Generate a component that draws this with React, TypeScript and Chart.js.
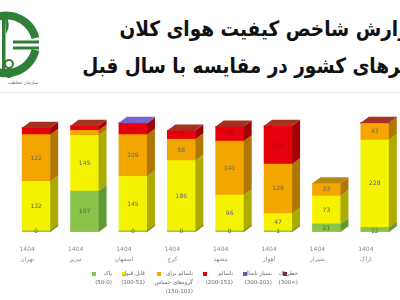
import React, { useEffect, useRef } from "react";
import { Chart, registerables } from "chart.js";

Chart.register(...registerables);

// ---- data ----
const cities = ["تهران", "تبریز", "اصفهان", "کرج", "مشهد", "اهواز", "شیراز", "اراک"];
const yearLabel = "1404";
const clean = [0, 107, 0, 0, 0, 1, 21, 12];
const acceptable = [132, 145, 145, 186, 96, 47, 73, 228];
const sensitive = [122, 13, 109, 56, 141, 129, 33, 43];
const unhealthy = [18, 12, 29, 23, 38, 100, 0, 2];
const veryUnhealthy = [0, 0, 2, 0, 0, 0, 0, 0];
const hazardous = [0, 0, 0, 0, 0, 0, 0, 0];

const seriesNames = ["پاک", "قابل قبول", "ناسالم برای گروه‌های حساس", "ناسالم", "بسیار ناسالم", "خطرناک"];
const legendLines = [
  ["پاک", "(50-0)"],
  ["قابل قبول", "(100-51)"],
  ["ناسالم برای", "گروه‌های حساس", "(150-101)"],
  ["ناسالم", "(200-151)"],
  ["بسیار ناسالم", "(300-201)"],
  ["خطرناک", "(300<)"],
];
const titleLines = ["گزارش شاخص کیفیت هوای کلان", "شهرهای کشور در مقایسه با سال قبل"];

// ---- styles ----
const frontColors = ["#88c44c", "#f4f200", "#f3a500", "#e6000c", "#6b55c8", "#8b1a1a"];
const sideColors = ["#5f9935", "#adab00", "#b07700", "#a30008", "#4a3a92", "#5a1010"];
const topColors = ["#a8d870", "#d8d600", "#b8880c", "#a4321e", "#7664d4", "#6a1515"];
const labelColors = ["#556b2f", "#666", "#666", "#b8000a", "#444", "#444"];

const threeD = {
  id: "threeD",
  afterDatasetsDraw(chart: any) {
    const ctx = chart.ctx;
    const n = chart.data.labels.length;
    const D = 8;
    const H = 6;
    ctx.save();
    for (let i = 0; i < n; i++) {
      let topIdx = -1;
      let topEl: any = null;
      let baseY = 0;
      let left = 0;
      let right = 0;
      chart.data.datasets.forEach((ds: any, di: number) => {
        const el = chart.getDatasetMeta(di).data[i];
        if (!el) return;
        const p = el.getProps(["x", "y", "base", "width"], true);
        const l = p.x - p.width / 2;
        const r = p.x + p.width / 2;
        if (di === 0) {
          baseY = p.base;
          left = l;
          right = r;
        }
        if (ds.data[i] > 0) {
          ctx.fillStyle = sideColors[di];
          ctx.beginPath();
          ctx.moveTo(r, p.y);
          ctx.lineTo(r + D, p.y - H);
          ctx.lineTo(r + D, p.base - H);
          ctx.lineTo(r, p.base);
          ctx.closePath();
          ctx.fill();
          topIdx = di;
          topEl = p;
        }
      });
      if (topIdx >= 0 && topEl) {
        const l = topEl.x - topEl.width / 2;
        const r = topEl.x + topEl.width / 2;
        ctx.fillStyle = topColors[topIdx];
        ctx.beginPath();
        ctx.moveTo(l, topEl.y);
        ctx.lineTo(l + D, topEl.y - H);
        ctx.lineTo(r + D, topEl.y - H);
        ctx.lineTo(r, topEl.y);
        ctx.closePath();
        ctx.fill();
      }
      // thin ground strip
      ctx.fillStyle = "#9cc43a";
      ctx.fillRect(left, baseY - 1.5, right - left, 1.5);
      ctx.fillStyle = "#6f9a2a";
      ctx.beginPath();
      ctx.moveTo(right, baseY);
      ctx.lineTo(right + D, baseY - H);
      ctx.lineTo(right + D, baseY - H - 1.5);
      ctx.lineTo(right, baseY - 1.5);
      ctx.closePath();
      ctx.fill();
    }
    // value labels
    ctx.font = "6px 'DejaVu Sans'";
    ctx.textAlign = "center";
    ctx.textBaseline = "middle";
    chart.data.datasets.forEach((ds: any, di: number) => {
      const meta = chart.getDatasetMeta(di);
      meta.data.forEach((el: any, i: number) => {
        const v = ds.data[i];
        const p = el.getProps(["x", "y", "base"], true);
        if (di === 0 && v === 0) {
          ctx.fillStyle = labelColors[0];
          ctx.fillText("0", p.x, p.base - 1);
          return;
        }
        if (v <= 0) return;
        const h = p.base - p.y;
        if (h < 5 && di !== 0) return;
        ctx.fillStyle = labelColors[di];
        ctx.fillText(String(v), p.x, di === 0 && h < 5 ? p.base - 1 : (p.y + p.base) / 2);
      });
    });
    ctx.restore();
  },
};

function ChartBox() {
  const ref = useRef<HTMLCanvasElement>(null);
  useEffect(() => {
    if (!ref.current) return;
    const data = [clean, acceptable, sensitive, unhealthy, veryUnhealthy, hazardous];
    const chart = new Chart(ref.current, {
      type: "bar",
      data: {
        labels: cities.map((c) => [yearLabel, c]),
        datasets: data.map((d, i) => ({
          label: seriesNames[i],
          data: d,
          backgroundColor: frontColors[i],
          borderWidth: 0,
          barThickness: 28,
        })),
      },
      options: {
        animation: false,
        responsive: false,
        maintainAspectRatio: false,
        layout: { padding: { left: 12, right: 1, top: 17, bottom: 2 } },
        plugins: { legend: { display: false }, tooltip: { enabled: false }, title: { display: false } },
        scales: {
          x: {
            stacked: true,
            grid: { display: false, drawTicks: false },
            border: { display: false },
            ticks: {
              autoSkip: false,
              maxRotation: 0,
              minRotation: 0,
              padding: 12,
              labelOffset: -9,
              color: "#8a8a8a",
              font: { family: "'DejaVu Sans'", size: 6, lineHeight: "10px" },
            },
          },
          y: {
            stacked: true,
            display: false,
            min: 0,
            max: 300,
          },
        },
      },
      plugins: [threeD],
    });
    return () => chart.destroy();
  }, []);
  return <canvas ref={ref} width={400} height={178} style={{ position: "absolute", left: 0, top: 100, width: 400, height: 178 }} />;
}

function Logo() {
  const g = "#2f7f36";
  return (
    <svg width={44} height={92} style={{ position: "absolute", left: 0, top: 0 }}>
      <path d="M -19 29.5 A 30 30 0 0 1 35.4 38" stroke={g} strokeWidth={8} fill="none" />
      <path d="M 35.4 50 A 30 30 0 0 1 -19 59.5" stroke={g} strokeWidth={8} fill="none" />
      <rect x={13} y={40.5} width={26} height={3} fill={g} />
      <rect x={13} y={46.5} width={26} height={3} fill={g} />
      <rect x={2} y={12} width={3.5} height={60} fill={g} />
      <path d="M 5 14 Q 12 24 6 34 Z" fill={g} />
      <circle cx={9} cy={64} r={4} stroke={g} strokeWidth={2} fill="none" />
      <circle cx={9} cy={73} r={4} stroke={g} strokeWidth={2} fill="none" />
      <text x={38} y={84} fontSize={4.5} fill="#667" textAnchor="end" fontFamily="DejaVu Sans">
        سازمان حفاظت
      </text>
    </svg>
  );
}

function Legend() {
  const sq = [92, 122, 157, 203, 243, 283];
  const rightEdge = [112, 145, 193, 233, 272, 298];
  return (
    <>
      {legendLines.map((lines, i) => (
        <React.Fragment key={i}>
          <div
            style={{
              position: "absolute",
              left: sq[i],
              top: 272,
              width: 4,
              height: 4,
              background: frontColors[i],
            }}
          />
          <div
            style={{
              position: "absolute",
              right: 400 - rightEdge[i],
              top: 269,
              fontFamily: "'DejaVu Sans'",
              fontSize: 5.5,
              lineHeight: "9px",
              color: "#666",
              textAlign: "right",
              whiteSpace: "nowrap",
            }}
          >
            {lines.map((t, k) => (
              <div key={k} dir={t.startsWith("(") ? "ltr" : "rtl"}>
                {t}
              </div>
            ))}
          </div>
        </React.Fragment>
      ))}
    </>
  );
}

export default function App() {
  return (
    <div
      style={{
        position: "fixed",
        left: 0,
        top: 0,
        width: 400,
        height: 300,
        overflow: "hidden",
        background: "#fff",
      }}
    >
      <Logo />
      <div
        dir="rtl"
        style={{
          position: "absolute",
          right: -20,
          top: 11,
          fontFamily: "'DejaVu Sans'",
          fontWeight: "bold",
          fontSize: 21,
          lineHeight: "37px",
          color: "#111",
          textAlign: "right",
          whiteSpace: "nowrap",
          transform: "scaleX(0.88)",
          transformOrigin: "right top",
        }}
      >
        {titleLines.map((t, i) => (
          <div key={i} style={{ position: "relative", left: i === 1 ? 12 : 0 }}>
            {t}
          </div>
        ))}
      </div>
      <div style={{ position: "absolute", left: 0, top: 92, width: 400, height: 1, background: "#eeeeee" }} />
      <ChartBox />
      <Legend />
    </div>
  );
}
